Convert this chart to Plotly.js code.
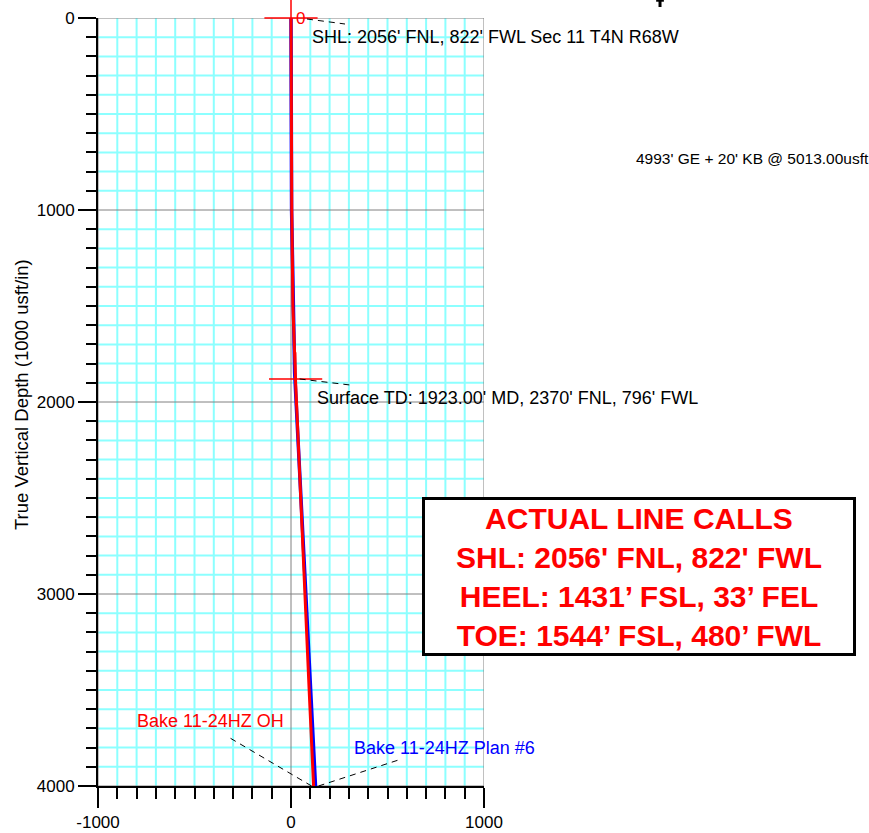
<!DOCTYPE html>
<html>
<head>
<meta charset="utf-8">
<script src="https://cdn.plot.ly/plotly-3.0.1.min.js"></script>
<style>html,body{margin:0;padding:0;background:#fff;}#chart{width:869px;height:833px;}</style>
</head>
<body>
<div id="chart"></div>
<script>
// ---- Data ----
const ohName = "Bake 11-24HZ OH";
const planName = "Bake 11-24HZ Plan #6";
const ohTVD = [0, 500, 1000, 1500, 1800, 1900, 2400, 3000, 3500, 4000];
const ohVS  = [0, 2, 4, 10, 18, 24, 46, 71, 94, 117];
const planTVD = [0, 1000, 1850, 2500, 3000, 3500, 4000];
const planVS  = [0, 3, 19, 51, 76, 102, 127];
const markerVS  = [0, 24];
const markerTVD = [0, 1880];
const markerText = ["0", ""];
const shlLabel = "SHL: 2056' FNL, 822' FWL Sec 11 T4N R68W";
const tdLabel = "Surface TD: 1923.00' MD, 2370' FNL, 796' FWL";
const elevLabel = "4993' GE + 20' KB @ 5013.00usft";
const boxLines = ["ACTUAL LINE CALLS", "SHL: 2056' FNL, 822' FWL", "HEEL: 1431\u2019 FSL, 33\u2019 FEL", "TOE: 1544\u2019 FSL, 480\u2019 FWL"];
const yTitle = "True Vertical Depth (1000 usft/in)";
const xTickVals = [-1000, 0, 1000];
const xTickText = ["-1000", "0", "1000"];
const yTickVals = [0, 1000, 2000, 3000, 4000];
const yTickText = ["0", "1000", "2000", "3000", "4000"];

const FONT = "Arial, 'Liberation Sans', sans-serif";
const XR = [-1000, 1000], YR = [4000, 0], MINOR = 100;
const ohEnd = ohVS[ohVS.length - 1], planEnd = planVS[planVS.length - 1];
const tvdEnd = ohTVD[ohTVD.length - 1];

const traces = [
  {x: planVS, y: planTVD, mode: 'lines', line: {color: '#0000ff', width: 3.5}, hoverinfo: 'skip'},
  {x: ohVS, y: ohTVD, mode: 'lines', line: {color: '#ff0000', width: 3}, hoverinfo: 'skip'},
  {x: markerVS, y: markerTVD, mode: 'markers', cliponaxis: false,
   marker: {symbol: 'cross-thin-open', size: 38, color: '#ff0000', line: {color: '#ff0000', width: 1.5}}, hoverinfo: 'skip'}
];

function leader(ax, ay, x0, y0, x1, y1) {
  return {type: 'line', xref: 'x', yref: 'y', xsizemode: 'pixel', ysizemode: 'pixel',
    xanchor: ax, yanchor: ay, x0: x0, x1: x1, y0: y0, y1: y1,
    line: {color: '#000', width: 1, dash: '6px,5px'}};
}

const shapes = [];
// cyan minor grid every 100 usft
for (let v = XR[0] + MINOR; v < XR[1]; v += MINOR) {
  if (xTickVals.indexOf(v) < 0) shapes.push({type: 'line', layer: 'below', xref: 'x', yref: 'paper', x0: v, x1: v, y0: 0, y1: 1, line: {color: '#8cffff', width: 2}});
}
for (let v = YR[1] + MINOR; v < YR[0]; v += MINOR) {
  if (yTickVals.indexOf(v) < 0) shapes.push({type: 'line', layer: 'below', xref: 'paper', yref: 'y', x0: 0, x1: 1, y0: v, y1: v, line: {color: '#8cffff', width: 2}});
}
// grey major grid lines
xTickVals.forEach(v => shapes.push({type: 'line', layer: 'between', xref: 'x', yref: 'paper', x0: v, x1: v, y0: 0, y1: 1, line: {color: '#808080', width: 1}}));
yTickVals.forEach(v => shapes.push({type: 'line', layer: 'between', xref: 'paper', yref: 'y', x0: 0, x1: 1, y0: v, y1: v, line: {color: '#808080', width: 1}}));
shapes.push(
  leader(markerVS[0], markerTVD[0], 16, -1, 54, -6),
  leader(markerVS[1], markerTVD[1], 4, 0, 54, -6),
  leader(ohEnd, tvdEnd, -2, 0, -87, 50),
  leader(planEnd, tvdEnd, 3, 0, 83, 26),
  // north arrow fragment at top edge
  {type: 'line', xref: 'paper', yref: 'paper', x0: 1.456, x1: 1.456, y0: 1.0234, y1: 1.0143, line: {color: '#000', width: 3}},
  {type: 'line', xref: 'paper', yref: 'paper', x0: 1.446, x1: 1.466, y0: 1.0225, y1: 1.0225, line: {color: '#000', width: 2}}
);

const annotations = [
  {x: markerVS[0], y: markerTVD[0], xref: 'x', yref: 'y', text: markerText[0], showarrow: false,
   xanchor: 'left', yanchor: 'middle', xshift: 3, font: {family: FONT, size: 17, color: '#ff0000'}},
  {x: markerVS[0], y: markerTVD[0], xref: 'x', yref: 'y', text: shlLabel, showarrow: false,
   xanchor: 'left', yanchor: 'middle', xshift: 19, yshift: -19, font: {family: FONT, size: 18, color: '#000'}},
  {x: markerVS[1], y: markerTVD[1], xref: 'x', yref: 'y', text: tdLabel, showarrow: false,
   xanchor: 'left', yanchor: 'middle', xshift: 19, yshift: -19, font: {family: FONT, size: 18, color: '#000'}},
  {x: ohEnd, y: tvdEnd, xref: 'x', yref: 'y', text: ohName, showarrow: false,
   xanchor: 'right', yanchor: 'middle', xshift: -28, yshift: 65, font: {family: FONT, size: 18, color: '#ff0000'}},
  {x: planEnd, y: tvdEnd, xref: 'x', yref: 'y', text: planName, showarrow: false,
   xanchor: 'left', yanchor: 'middle', xshift: 36, yshift: 38, font: {family: FONT, size: 18, color: '#0000ff'}},
  {x: 1.3886, y: 0.8177, xref: 'paper', yref: 'paper', text: elevLabel, showarrow: false,
   xanchor: 'left', yanchor: 'middle', font: {family: FONT, size: 15.5, color: '#000'}},
  {x: -0.1995, y: 0.5104, xref: 'paper', yref: 'paper', text: yTitle, showarrow: false, textangle: -90,
   xanchor: 'center', yanchor: 'middle', font: {family: FONT, size: 18.5, color: '#000'}},
  {x: 1.4016, y: 0.2728, xref: 'paper', yref: 'paper', text: '<b>' + boxLines.join('<br>') + '</b>', showarrow: false,
   xanchor: 'center', yanchor: 'middle', width: 428, height: 153, align: 'center',
   bgcolor: '#ffffff', bordercolor: '#000000', borderwidth: 3, borderpad: 0,
   font: {family: FONT, size: 30, color: '#ff0000'}}
];

const layout = {
  width: 869, height: 833,
  margin: {l: 98, r: 385, t: 18, b: 47, pad: 0},
  paper_bgcolor: '#ffffff', plot_bgcolor: '#ffffff',
  showlegend: false,
  font: {family: FONT, size: 17, color: '#000'},
  xaxis: {
    range: XR, tickmode: 'array', tickvals: xTickVals, ticktext: xTickText,
    ticks: 'outside', ticklen: 20, tickwidth: 2, tickcolor: '#000',
    showline: true, linecolor: '#000', linewidth: 2, zeroline: false, showgrid: false,
    tickfont: {family: FONT, size: 17, color: '#000'},
    minor: {tickmode: 'linear', tick0: 0, dtick: MINOR, ticks: 'outside', ticklen: 11, tickwidth: 2, tickcolor: '#000', showgrid: false},
    fixedrange: true
  },
  yaxis: {
    range: YR, tickmode: 'array', tickvals: yTickVals, ticktext: yTickText,
    ticks: 'outside', ticklen: 18, tickwidth: 2, tickcolor: '#000',
    showline: true, linecolor: '#000', linewidth: 2, zeroline: false, showgrid: false,
    tickfont: {family: FONT, size: 17, color: '#000'},
    minor: {tickmode: 'linear', tick0: 0, dtick: MINOR, ticks: 'outside', ticklen: 10, tickwidth: 2, tickcolor: '#000', showgrid: false},
    fixedrange: true
  },
  shapes: shapes,
  annotations: annotations
};

Plotly.newPlot('chart', traces, layout, {displayModeBar: false, staticPlot: true});
</script>
</body>
</html>
